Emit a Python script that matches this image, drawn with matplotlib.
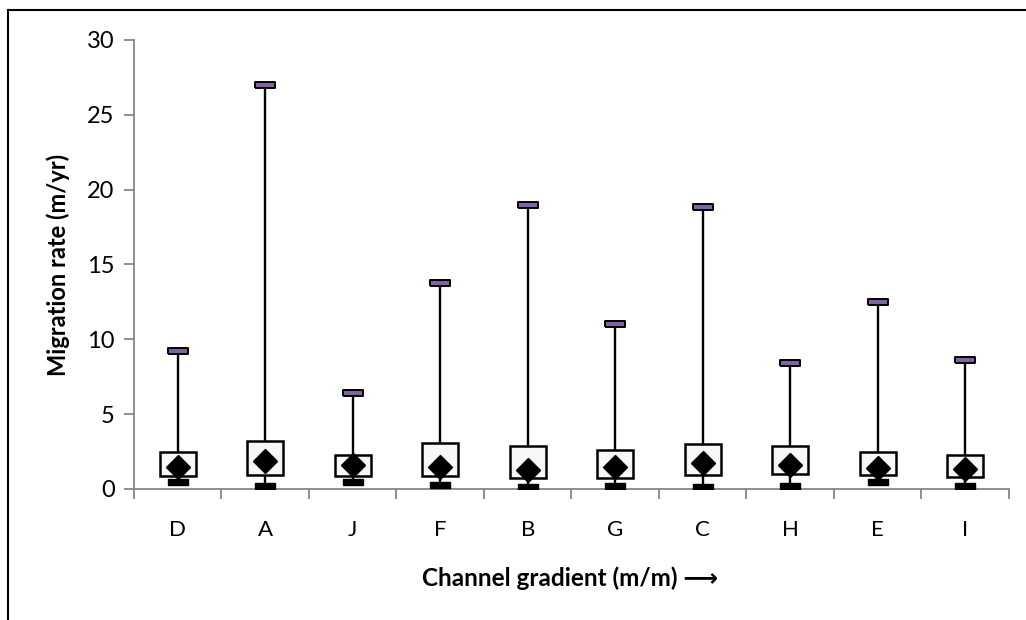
#!/usr/env/bin python

# Box-style summary of migration rate per reach

import numpy as np
import matplotlib.pyplot as plt
from matplotlib.lines import Line2D

plt.rcParams['font.family'] = ['Lato', 'DejaVu Sans']

# Data
reaches = ['D', 'A', 'J', 'F', 'B', 'G', 'C', 'H', 'E', 'I']
rate_min = [0.45, 0.2, 0.5, 0.25, 0.15, 0.2, 0.15, 0.2, 0.5, 0.2]
rate_q1 = [0.9, 0.95, 0.9, 0.9, 0.75, 0.75, 0.95, 1.0, 0.95, 0.8]
rate_q3 = [2.5, 3.2, 2.3, 3.05, 2.85, 2.6, 3.0, 2.9, 2.45, 2.25]
rate_mean = [1.5, 1.85, 1.6, 1.45, 1.25, 1.45, 1.75, 1.6, 1.4, 1.35]
rate_max = [9.25, 27.0, 6.4, 13.75, 19.0, 11.0, 18.85, 8.4, 12.5, 8.6]

fig = plt.figure(figsize=(10.26, 6.2), dpi=100)
ax1 = fig.add_axes([0.1306, 0.2113, 0.8528, 0.7242])

x = np.arange(len(reaches))
lo = np.array(rate_min)
q1 = np.array(rate_q1)
q3 = np.array(rate_q3)
hi = np.array(rate_max)

# whiskers
ax1.vlines(x, q3, hi, color='black', lw=1.7, zorder=2)
ax1.vlines(x, lo, q1, color='black', lw=1.7, zorder=2)

# boxes
ax1.bar(x, q3 - q1, bottom=q1, width=0.41, color='#f7f7f7',
        edgecolor='black', lw=1.8, zorder=3)

# mean
ax1.plot(x, rate_mean, ls='none', marker='D', ms=12, color='black', zorder=4)

# min / max caps
cap = [(-2, -0.5), (2, -0.5), (2, 0.5), (-2, 0.5), (-2, -0.5)]
ax1.plot(x, lo, ls='none', marker=cap, ms=15, mfc='black',
         mec='black', mew=1, zorder=5)
ax1.plot(x, hi, ls='none', marker=cap, ms=15, mfc='#8064a2',
         mec='black', mew=1.4, zorder=5)

# axes
ax1.set_xlim(-0.5, len(reaches) - 0.5)
ax1.set_ylim(0, 30)
ax1.set_yticks(np.arange(0, 31, 5))
ax1.set_xticks(x)
ax1.set_xticklabels(reaches)
ax1.set_xticks(np.arange(-0.5, len(reaches), 1), minor=True)
ax1.tick_params(axis='x', which='major', length=0, pad=22, labelsize=16)
ax1.tick_params(axis='x', which='minor', length=7, color='#868686', width=1.3)
ax1.tick_params(axis='y', length=7, color='#868686', width=1.3,
                labelsize=17, pad=7)

for side in ['top', 'right']:
    ax1.spines[side].set_visible(False)
for side in ['left', 'bottom']:
    ax1.spines[side].set_color('#868686')
    ax1.spines[side].set_linewidth(1.3)

ax1.set_ylabel('Migration rate (m/yr)', fontsize=17, fontweight='bold',
               labelpad=12)
fig.text(0.556, 0.068, 'Channel gradient (m/m) \u27f6', fontsize=17.5,
         fontweight='bold', ha='center', va='center')

# outer frame (left and top only are visible)
fig.add_artist(Line2D([8 / 1026, 8 / 1026], [0, 1 - 10 / 620],
                      transform=fig.transFigure, color='black', lw=1.5))
fig.add_artist(Line2D([8 / 1026, 1], [1 - 10 / 620, 1 - 10 / 620],
                      transform=fig.transFigure, color='black', lw=1.5))

plt.savefig('out.png', dpi=100)
